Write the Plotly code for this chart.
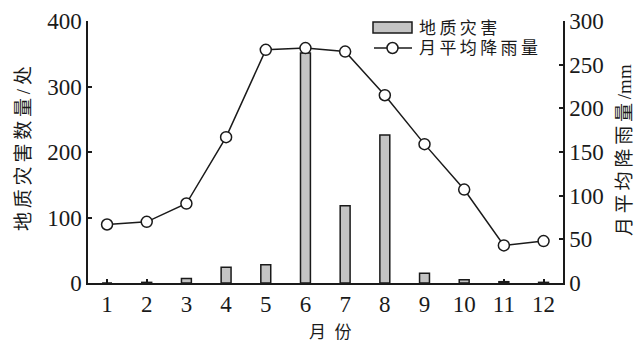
import plotly.graph_objects as go

months = [1, 2, 3, 4, 5, 6, 7, 8, 9, 10, 11, 12]
month_labels = ["1", "2", "3", "4", "5", "6", "7", "8", "9", "10", "11", "12"]
hazards = [0, 1, 7, 24, 28, 351, 118, 226, 15, 5, 2, 1]
rainfall = [67, 70, 91, 167, 267, 269, 265, 215, 159, 107, 43, 48]
bar_name = "地质灾害"
line_name = "月平均降雨量"
left_title = "地质灾害数量/处"
right_title_cjk = "月平均降雨量"
right_title_unit = "/mm"
x_title = "月份"

FONT = "Liberation Serif, Times New Roman, Noto Sans CJK SC, serif"
INK = "#1a1a1a"
BAR_FILL = "#c4c4c4"

W, H = 634, 342
ML, MR, MT, MB = 88, 71, 21, 59
PW, PH = W - ML - MR, H - MT - MB


def px(x):
    return (x - ML) / PW


def py(y):
    return 1 - (y - MT) / PH


def spaced(s):
    return "\u2009".join(s)


fig = go.Figure()
fig.add_trace(go.Bar(
    x=months, y=hazards, name=bar_name, width=0.25,
    marker=dict(color=BAR_FILL, line=dict(color=INK, width=1.5)),
    yaxis="y", showlegend=False,
))
fig.add_trace(go.Scatter(
    x=months, y=rainfall, name=line_name, mode="lines+markers",
    line=dict(color=INK, width=1.5),
    marker=dict(symbol="circle", size=11, color="white", line=dict(color=INK, width=1.5)),
    yaxis="y2", showlegend=False,
))

axis_common = dict(
    showgrid=False, zeroline=False, showline=True, linecolor=INK, linewidth=1.5,
    ticks="inside", ticklen=4, tickwidth=1.5, tickcolor=INK, automargin=False,
    tickfont=dict(family=FONT, size=23, color=INK),
)

shapes = [
    # legend: bar swatch
    dict(type="rect", xref="paper", yref="paper",
         x0=px(373), x1=px(412), y0=py(33), y1=py(22),
         fillcolor=BAR_FILL, line=dict(color=INK, width=1.5)),
    # legend: line swatch
    dict(type="line", xref="paper", yref="paper",
         x0=px(374), x1=px(412), y0=py(48), y1=py(48),
         line=dict(color=INK, width=1.5)),
    dict(type="circle", xref="paper", yref="paper",
         x0=px(387), x1=px(398), y0=py(53.5), y1=py(42.5),
         fillcolor="white", line=dict(color=INK, width=1.5)),
]

annotations = [
    dict(text=spaced(bar_name), xref="paper", yref="paper", x=px(417), y=py(28.5),
         showarrow=False, xanchor="left", yanchor="middle",
         font=dict(family=FONT, size=17, color=INK)),
    dict(text=spaced(line_name), xref="paper", yref="paper", x=px(417), y=py(48),
         showarrow=False, xanchor="left", yanchor="middle",
         font=dict(family=FONT, size=17, color=INK)),
    dict(text=spaced(left_title), xref="paper", yref="paper", x=px(23), y=py(149),
         textangle=-90, showarrow=False, xanchor="center", yanchor="middle",
         font=dict(family=FONT, size=19, color=INK)),
    dict(text=spaced(right_title_cjk) + "\u2009" + right_title_unit,
         xref="paper", yref="paper", x=px(624), y=py(150),
         textangle=-90, showarrow=False, xanchor="center", yanchor="middle",
         font=dict(family=FONT, size=19, color=INK)),
    dict(text="\u2002".join(x_title), xref="paper", yref="paper", x=px(330), y=py(332),
         showarrow=False, xanchor="center", yanchor="middle",
         font=dict(family=FONT, size=17, color=INK)),
]

fig.update_layout(
    width=W, height=H,
    margin=dict(l=ML, r=MR, t=MT, b=MB),
    paper_bgcolor="white", plot_bgcolor="white",
    showlegend=False,
    xaxis=dict(
        range=[0.52, 12.49], tickmode="array", tickvals=months, ticktext=month_labels,
        layer="below traces", **axis_common,
    ),
    yaxis=dict(range=[0, 400], tickvals=[0, 100, 200, 300, 400], **axis_common),
    yaxis2=dict(range=[0, 300], tickvals=[0, 50, 100, 150, 200, 250, 300],
                overlaying="y", side="right", **axis_common),
    shapes=shapes,
    annotations=annotations,
)

fig.write_html(
    "out.html",
    config={"displayModeBar": False},
    post_script="document.body.style.margin='0';document.body.style.overflow='hidden';",
)
